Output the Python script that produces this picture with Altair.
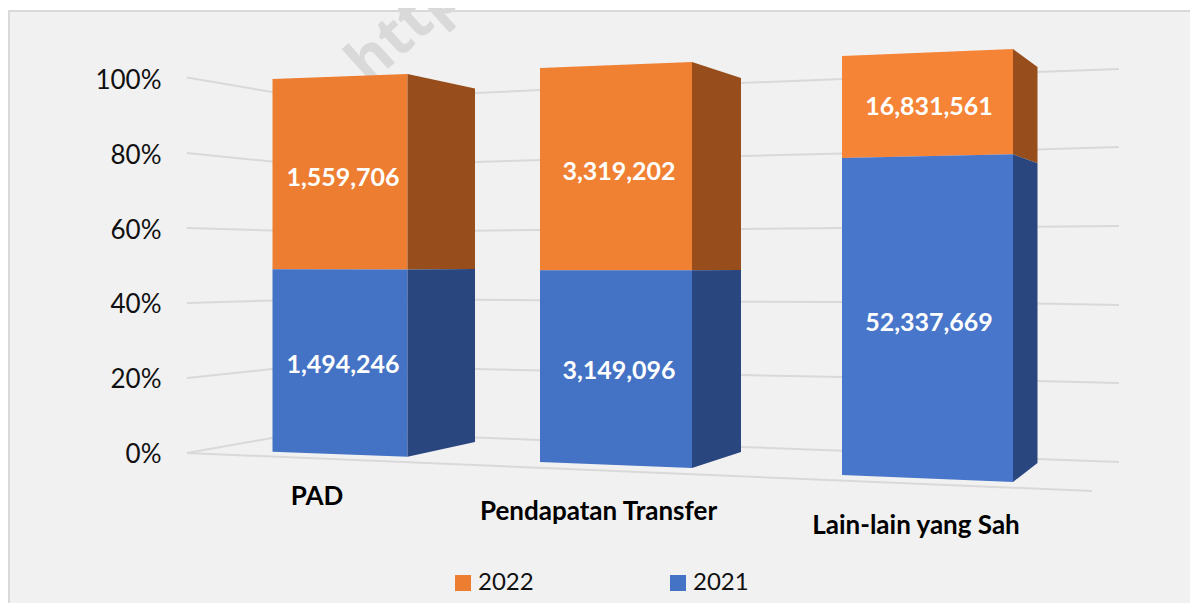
import altair as alt
import pandas as pd

# --- chart values -----------------------------------------------------------
categories = ["PAD", "Pendapatan Transfer", "Lain-lain yang Sah"]
values_2021 = [1494246, 3149096, 52337669]
values_2022 = [1559706, 3319202, 16831561]
y_ticks = [0, 20, 40, 60, 80, 100]

# --- 3-D look: where the perspective puts things on the canvas --------------
W, H = 1182, 595
X0, Y0 = 8, 8
Y_100, Y_PER_PCT = 79.5, 3.74


def pct(py):
    return (Y_100 + 100 * Y_PER_PCT - py) / Y_PER_PCT


bar_x = [(272.5, 407.5, 475), (540, 692, 741), (842, 1013, 1037.5)]
bar_top = [(79, 74, 88.5), (68, 62, 78), (56, 49, 67)]
bar_bottom = [(451.7, 456.7, 442), (462, 468, 452), (475, 482, 463)]
label_x = [343, 619, 929]
label_y_2022 = [178, 172, 107]
label_y_2021 = [365, 371, 323]
cat_x = [317, 598.5, 916]
cat_y = [497, 512, 526]

grid_x = [187, 272, 475, 540, 741, 842, 1037, 1119]
grid_y = {
    0: [453, 438, 437.5, 440, 447, 450.7, 459, 462],
    20: [378, 369, 369, 370.5, 375, 377, 381, 383],
    40: [303, 300.5, 299.7, 300.3, 301.7, 302, 303.5, 305],
    60: [228, 230.5, 230.7, 230, 229, 228, 226.7, 226],
    80: [153, 161.5, 162, 160, 156, 153.5, 149.5, 147],
    100: [77.5, 92, 93, 90, 83, 79, 72, 69],
}
floor_x = [187, 1092]
floor_y = [453, 491]

face_colors = {
    "2022": "#ED7D31",
    "2021": "#4472C4",
    "o2": "#F08133",
    "o3": "#F58437",
    "b3": "#4876CA",
    "side22": "#974E1C",
    "side21": "#2A467F",
}

# --- build tables -----------------------------------------------------------
faces = []
for i in range(3):
    frac = values_2021[i] / (values_2021[i] + values_2022[i])
    split = [bar_bottom[i][k] + frac * (bar_top[i][k] - bar_bottom[i][k]) for k in range(3)]
    front22 = {0: "2022", 1: "o2", 2: "o3"}[i]
    front21 = {0: "2021", 1: "2021", 2: "b3"}[i]
    for name, kind, a, b, s, e in [
        (f"f22{i}", front22, bar_top[i], split, 0, 1),
        (f"f21{i}", front21, split, bar_bottom[i], 0, 1),
        (f"s22{i}", "side22", bar_top[i], split, 1, 2),
        (f"s21{i}", "side21", split, bar_bottom[i], 1, 2),
    ]:
        for k in (s, e):
            faces.append({"face": name, "kind": kind, "x": bar_x[i][k],
                          "y": pct(a[k]), "ylow": pct(b[k])})
faces = pd.DataFrame(faces)

grid = []
for t, col in grid_y.items():
    for k, (x, y) in enumerate(zip(grid_x, col)):
        grid.append({"tick": t, "k": k, "x": x, "y": pct(y)})
for k, (x, y) in enumerate(zip(floor_x, floor_y)):
    grid.append({"tick": -1, "k": k, "x": x, "y": pct(y)})
grid = pd.DataFrame(grid)

labels = pd.DataFrame({
    "x": label_x * 2,
    "y": [pct(v) for v in label_y_2022 + label_y_2021],
    "t": [f"{v:,}" for v in values_2022 + values_2021],
})
cats = pd.DataFrame({"x": cat_x, "y": [pct(v) for v in cat_y], "t": categories})
frame = pd.DataFrame({"x": [9], "x2": [1260], "y": [pct(11)], "ylow": [pct(660)]})
mark = pd.DataFrame({"x": [369], "y": [pct(86)], "t": ["http"]})

# --- scales -----------------------------------------------------------------
xs = alt.Scale(domain=[X0, X0 + W], nice=False, zero=False)
ys = alt.Scale(domain=[pct(Y0 + H), pct(Y0)], nice=False, zero=False)
X = alt.X("x:Q", scale=xs, axis=None)
y_axis = alt.Axis(values=y_ticks, labelExpr="datum.value + '%'",
                  grid=False, domain=False, ticks=False, labelPadding=0,
                  offset=-153, labelFont="Lato", labelFontSize=26, zindex=1, labelOffset=1,
                  labelColor="#111111", labelBaseline="middle", title=None)
Y = alt.Y("y:Q", scale=ys, axis=y_axis, stack=None, title=None)

bg = alt.Chart(frame).mark_rect(fill="#F1F1F1", stroke="#D9D9D9", strokeWidth=2).encode(
    x=X, x2="x2:Q", y=Y, y2="ylow:Q")

lines = alt.Chart(grid).mark_line(color="#D9D9D9", strokeWidth=2).encode(
    x=X, y=Y, detail="tick:N", order="k:Q")

water = alt.Chart(mark).mark_text(font="Noto Sans", fontWeight="bold", fontSize=60, angle=318,
                                  align="left", baseline="alphabetic", color="#D9D9D9").encode(
    x=X, y=Y, text="t:N")

area = alt.Chart(faces).mark_area(orient="vertical", interpolate="linear", opacity=1).encode(
    x=X, y=Y, y2="ylow:Q", detail="face:N",
    color=alt.Color("kind:N", title=None,
                    scale=alt.Scale(domain=list(face_colors), range=list(face_colors.values())),
                    legend=alt.Legend(values=["2022", "2021"], orient="none", legendX=443,
                                      legendY=563, columns=2, symbolType="square",
                                      symbolSize=256, symbolStrokeWidth=0, labelFont="Lato",
                                      labelFontSize=24, labelColor="#111111", labelOffset=3,
                                      columnPadding=132, padding=0, symbolOpacity=1)))

val_text = alt.Chart(labels).mark_text(font="Lato", fontWeight="bold", fontSize=25,
                                       color="white", align="center", baseline="middle").encode(
    x=X, y=Y, text="t:N")
cat_text = alt.Chart(cats).mark_text(font="Lato", fontWeight="bold", fontSize=26,
                                     color="black", align="center", baseline="middle").encode(
    x=X, y=Y, text="t:N")

chart = alt.layer(bg, water, lines, area, val_text, cat_text).properties(
    width=W, height=H, padding=0, background="white",
    autosize=alt.AutoSizeParams(type="none", contains="padding"),
).configure_view(stroke=None)

chart.save("out.html", embed_options={"renderer": "svg", "actions": False})
